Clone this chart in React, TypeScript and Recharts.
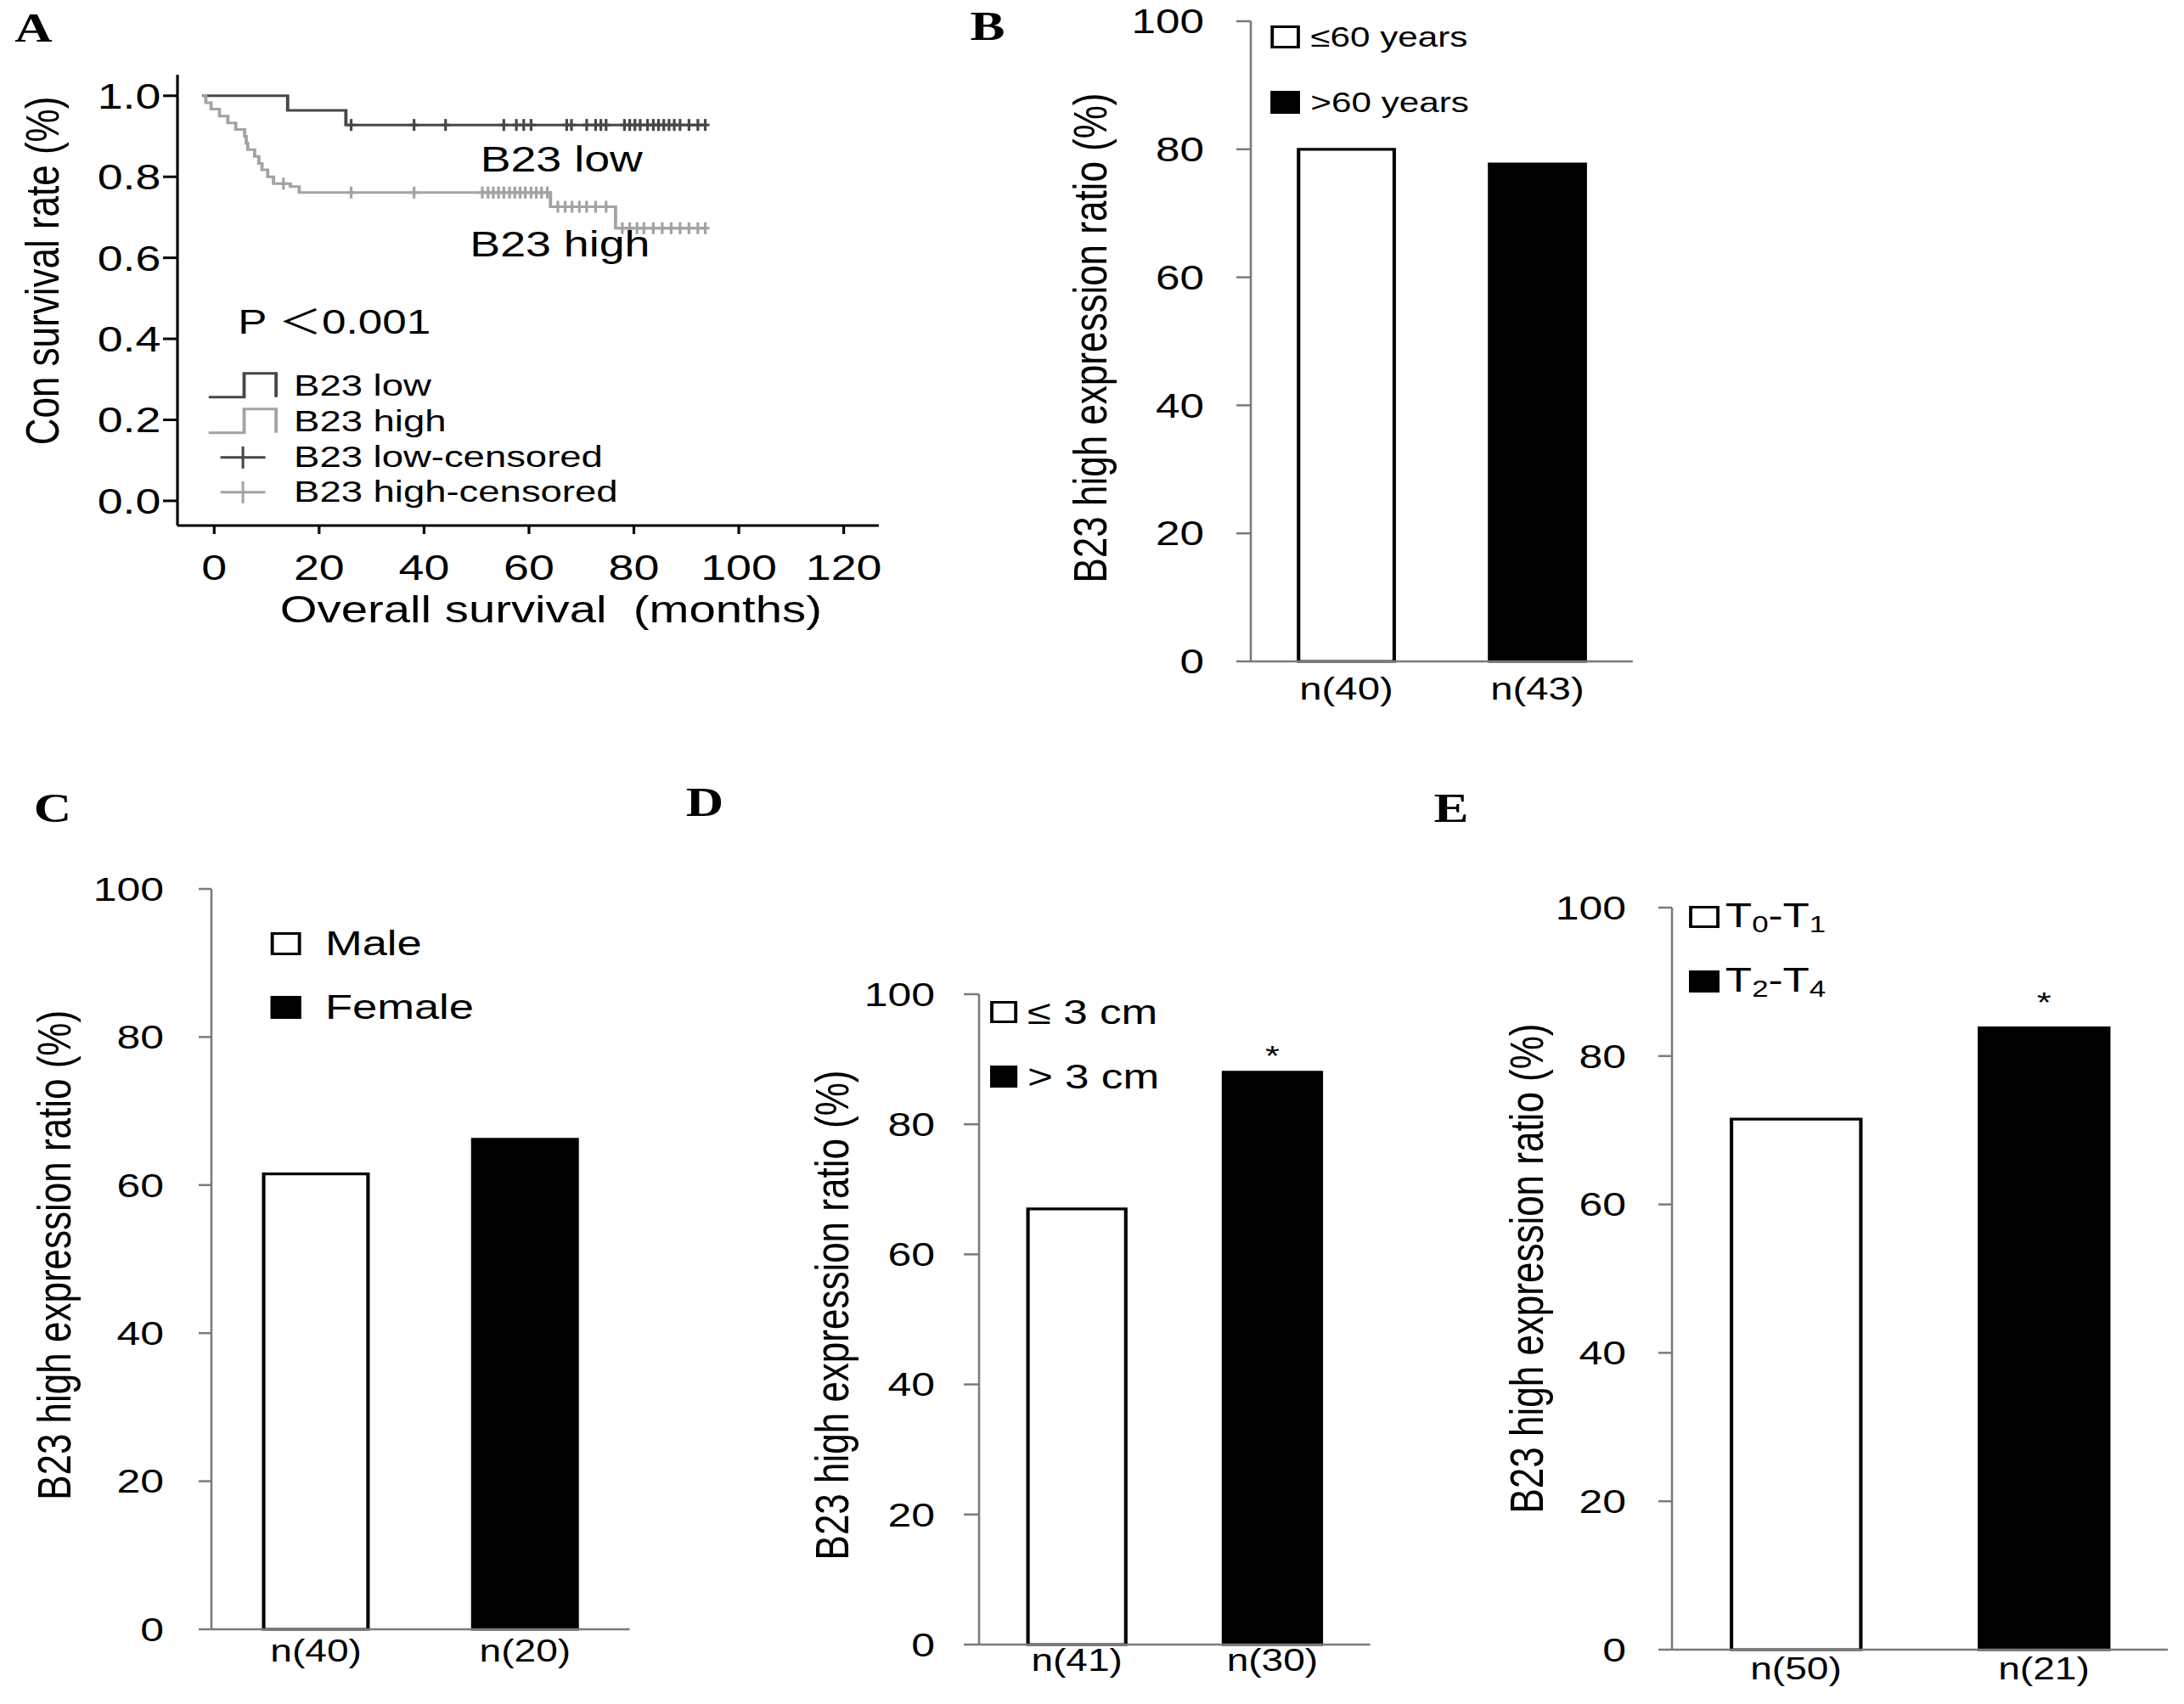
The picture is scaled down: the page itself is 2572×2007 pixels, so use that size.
import React from 'react';
import {
  ComposedChart, Line, Scatter, XAxis, YAxis, Legend, ReferenceDot,
  BarChart, Bar, Cell, LabelList,
} from 'recharts';

// ---------- layout constants ----------
const S = 1.28; // horizontal stretch of the original figure
const SANS = "'Liberation Sans', Arial, sans-serif";
const SANS_CJK = "'Liberation Sans', 'Noto Sans CJK SC', sans-serif";
const SERIF = "'Liberation Serif', 'Times New Roman', serif";
const LOW = '#474747';
const HIGH = '#a3a3a3';
const AXIS_GRAY = '#7a7a7a';
const FILLS = ['#ffffff', '#000000'];

// ---------- Panel A data (Kaplan-Meier) ----------
const survivalTicks = [0, 0.2, 0.4, 0.6, 0.8, 1.0];
const monthTicks = [0, 20, 40, 60, 80, 100, 120];

const lowCurveT = [-2.3, 14.0, 25.1, 93.9];
const lowCurveS = [1.0, 0.964, 0.928, 0.928];

const highCurveT = [-2.2, -1.6, -0.6, 1.0, 2.6, 4.1, 5.8, 6.1, 6.4, 7.7, 8.5, 9.1, 10.2, 11.3, 14.5, 16.2, 64.1, 76.5, 93.9];
const highCurveS = [1.0, 0.983, 0.967, 0.95, 0.933, 0.917, 0.9, 0.883, 0.867, 0.85, 0.833, 0.817, 0.8, 0.783, 0.776, 0.761, 0.726, 0.673, 0.673];

const lowCensorT = [26.1, 38.1, 44.1, 55.2, 57.6, 59.0, 60.4, 67.2, 68.1, 71.0, 72.7, 73.7, 74.7, 78.2, 79.2, 80.2, 81.2, 82.6, 83.7, 84.7, 85.7, 86.7, 87.7, 88.8, 90.5, 92.2, 93.6];
const lowCensorS = [0.928, 0.928, 0.928, 0.928, 0.928, 0.928, 0.928, 0.928, 0.928, 0.928, 0.928, 0.928, 0.928, 0.928, 0.928, 0.928, 0.928, 0.928, 0.928, 0.928, 0.928, 0.928, 0.928, 0.928, 0.928, 0.928, 0.928];

const highCensorT = [13.2, 26.1, 38.1, 51.1, 52.2, 53.2, 54.2, 55.2, 56.3, 57.3, 58.3, 59.3, 60.4, 61.4, 62.4, 63.5, 65.5, 66.9, 68.2, 69.6, 71.0, 72.7, 74.7, 77.8, 79.2, 80.6, 81.9, 83.7, 85.4, 87.1, 88.8, 90.5, 92.2, 93.6];
const highCensorS = [0.783, 0.761, 0.761, 0.761, 0.761, 0.761, 0.761, 0.761, 0.761, 0.761, 0.761, 0.761, 0.761, 0.761, 0.761, 0.761, 0.726, 0.726, 0.726, 0.726, 0.726, 0.726, 0.726, 0.673, 0.673, 0.673, 0.673, 0.673, 0.673, 0.673, 0.673, 0.673, 0.673, 0.673];

const kmLegendLabels = ['B23 low', 'B23 high', 'B23 low-censored', 'B23 high-censored'];
const kmLegendKinds = ['step', 'step', 'cross', 'cross'];
const kmLegendColors = [LOW, HIGH, LOW, HIGH];

const kmNotes = ['B23 low', 'B23 high', 'P ＜0.001'];
const kmNoteT = [66.2, 65.9, 22.9];
const kmNoteS = [0.845, 0.635, 0.442];

// ---------- Panels B–E data ----------
const ratioTicks = [0, 20, 40, 60, 80, 100];

const ageGroups = ['n(40)', 'n(43)'];
const ageRatio = [80, 77.7];
const ageLegend = ['≤60 years', '>60 years'];

const sexGroups = ['n(40)', 'n(20)'];
const sexRatio = [61.5, 66.2];
const sexLegend = ['Male', 'Female'];

const sizeGroups = ['n(41)', 'n(30)'];
const sizeRatio = [67, 88];
const sizeLegend = ['≤ 3 cm', '> 3 cm'];
const sizeSig = ['', '*'];

const stageGroups = ['n(50)', 'n(21)'];
const stageRatio = [71.5, 83.8];
const stageLegend = ['T0-T1', 'T2-T4'];
const stageSig = ['', '*'];

const panelLetters = ['A', 'B', 'C', 'D', 'E'];

// ---------- helpers ----------
const zip = (t: number[], s: number[]) => t.map((v, i) => ({ t: v, s: s[i] }));

const renderSub = (label: string) => {
  const parts = label.split(/(T\d)/);
  return parts.map((p, i) =>
    /^T\d$/.test(p) ? (
      <React.Fragment key={i}>
        T<span style={{ fontSize: '0.68em', verticalAlign: '-0.22em' }}>{p[1]}</span>
      </React.Fragment>
    ) : (
      <React.Fragment key={i}>{p}</React.Fragment>
    ),
  );
};

const vTitle = (text: string, cx: number, dy: number, fs: number) => (p: any) => {
  const vb = p.viewBox;
  const x = vb.x + cx;
  const y = vb.y + vb.height / 2 + dy;
  return (
    <text x={x} y={y} dy="0.35em" transform={`rotate(-90 ${x} ${y})`} textAnchor="middle"
      fontSize={fs} fontFamily={SANS} fill="#000">{text}</text>
  );
};

const hTitle = (text: string, dx: number, cyFromTop: number, fs: number) => (p: any) => {
  const vb = p.viewBox;
  const x = vb.x + vb.width / 2 + dx;
  const y = vb.y + cyFromTop;
  return (
    <text x={x} y={y} dy="0.35em" textAnchor="middle" fontSize={fs} fontFamily={SANS} fill="#000"
      style={{ whiteSpace: 'pre' }}>{text}</text>
  );
};

const censorShape = (color: string) => (p: any) => {
  const { cx, cy } = p;
  if (cx == null || cy == null) return <g />;
  return (
    <g>
      <line x1={cx - 4} x2={cx + 4} y1={cy} y2={cy} stroke={color} strokeWidth={3} />
      <line x1={cx} x2={cx} y1={cy - 7} y2={cy + 7} stroke={color} strokeWidth={2.5} />
    </g>
  );
};

// ---------- Panel A ----------
function KMPanel() {
  const lowCurve = zip(lowCurveT, lowCurveS);
  const highCurve = zip(highCurveT, highCurveS);
  const lowCensor = zip(lowCensorT, lowCensorS);
  const highCensor = zip(highCensorT, highCensorS);
  const rowH = 41.7;
  const iconW = 65;

  const legendContent = () => (
    <div style={{ fontFamily: SANS, fontSize: 35.5, color: '#000' }}>
      {kmLegendLabels.map((lab, i) => (
        <div key={lab} style={{ display: 'flex', alignItems: 'center', height: rowH }}>
          <svg width={iconW} height={rowH} style={{ display: 'block', overflow: 'visible' }}>
            {kmLegendKinds[i] === 'step' ? (
              <path d={`M1,${rowH / 2 + 13} H33.6 V${rowH / 2 - 15} H63 V${rowH / 2 + 13}`}
                fill="none" stroke={kmLegendColors[i]} strokeWidth={3} />
            ) : (
              <g stroke={kmLegendColors[i]} strokeWidth={3}>
                <line x1={iconW / 2 - 20.7} x2={iconW / 2 + 20.7} y1={rowH / 2} y2={rowH / 2} />
                <line x1={iconW / 2} x2={iconW / 2} y1={rowH / 2 - 13} y2={rowH / 2 + 13} strokeWidth={2.4} />
              </g>
            )}
          </svg>
          <span style={{ marginLeft: 14, whiteSpace: 'nowrap', lineHeight: 1 }}>{lab}</span>
        </div>
      ))}
    </div>
  );

  return (
    <div style={{ position: 'absolute', left: 0, top: 0 }}>
      <ComposedChart width={840} height={760} margin={{ top: 88, right: 31.4, bottom: 0, left: 0 }}>
        <XAxis type="number" dataKey="t" domain={[-7, 126.7]} ticks={monthTicks} interval={0}
          allowDataOverflow height={141} tickSize={10} tickMargin={24}
          axisLine={{ stroke: '#000', strokeWidth: 3 }} tickLine={{ stroke: '#000', strokeWidth: 2.5 }}
          tick={{ fontSize: 42, fill: '#000', fontFamily: SANS }}
          label={hTitle('Overall survival  (months)', 21, 99, 44)} />
        <YAxis type="number" dataKey="s" domain={[-0.061, 1.052]} ticks={survivalTicks} interval={0}
          allowDataOverflow width={163.3} tickSize={13.3} tickMargin={2}
          tickFormatter={(v: number) => v.toFixed(1)}
          axisLine={{ stroke: '#000', strokeWidth: 2.5 }} tickLine={{ stroke: '#000', strokeWidth: 3 }}
          tick={{ fontSize: 42, fill: '#000', fontFamily: SANS }}
          label={(p: any) => {
            const x = p.viewBox.x + 38.3;
            const y = 319;
            return (
              <text x={x} y={y} dy="0.35em" transform={`rotate(-90 ${x} ${y})`} textAnchor="middle"
                fontSize={44} fontFamily={SANS} fill="#000">Con survival rate (%)</text>
            );
          }} />
        <Line data={lowCurve} dataKey="s" type="stepAfter" stroke={LOW} strokeWidth={3} dot={false}
          activeDot={false} isAnimationActive={false} />
        <Line data={highCurve} dataKey="s" type="stepAfter" stroke={HIGH} strokeWidth={3} dot={false}
          activeDot={false} isAnimationActive={false} />
        <Scatter data={lowCensor} shape={censorShape(LOW)} isAnimationActive={false} />
        <Scatter data={highCensor} shape={censorShape(HIGH)} isAnimationActive={false} />
        {kmNotes.map((n, i) => (
          <ReferenceDot key={n} x={kmNoteT[i]} y={kmNoteS[i]} r={0} fill="none" stroke="none"
            label={{ value: n, position: 'center', fontSize: i === 2 ? 40 : 42, fill: '#000', fontFamily: SANS_CJK }} />
        ))}
        <Legend layout="vertical" align="center" verticalAlign="middle" content={legendContent}
          wrapperStyle={{ left: 191.4, top: 455 - rowH / 2, width: 'auto', height: 'auto' }} />
      </ComposedChart>
    </div>
  );
}

// ---------- Panels B–E ----------
type BarPanelProps = {
  left: number; top: number; width: number; height: number; marginTop: number;
  yAxisWidth: number; xAxisHeight: number; yTickSize: number; yTickMargin: number; xTickMargin: number;
  labelCx: number; labelDy: number;
  groups: string[]; values: number[]; legendLabels: string[]; sig?: string[]; sigOffset?: number;
  legendLeft: number; legendTop: number; rowH: number; boxW: number; boxH: number; boxGap: number; legendFont: number;
  gap: string; tickFont: number; xFont: number;
};

function BarPanel(p: BarPanelProps) {
  const rows = p.groups.map((g, i) => ({ name: g, value: p.values[i], sig: p.sig ? p.sig[i] : '' }));
  const legendContent = () => (
    <div style={{ fontFamily: SANS, fontSize: p.legendFont, color: '#000' }}>
      {p.legendLabels.map((lab, i) => (
        <div key={lab} style={{ display: 'flex', alignItems: 'center', height: p.rowH }}>
          <div style={{ width: p.boxW, height: p.boxH, boxSizing: 'border-box', border: '3.4px solid #000', background: FILLS[i] }} />
          <span style={{ marginLeft: p.boxGap, whiteSpace: 'nowrap', lineHeight: 1 }}>{renderSub(lab)}</span>
        </div>
      ))}
    </div>
  );
  return (
    <div style={{ position: 'absolute', left: p.left, top: p.top }}>
      <BarChart width={p.width} height={p.height} data={rows} barCategoryGap={p.gap}
        margin={{ top: p.marginTop, right: 10, bottom: 0, left: 0 }}>
        <XAxis dataKey="name" height={p.xAxisHeight} tickLine={false} tickSize={0} tickMargin={p.xTickMargin}
          axisLine={{ stroke: AXIS_GRAY, strokeWidth: 2.5 }} interval={0}
          tick={{ fontSize: p.xFont, fill: '#000', fontFamily: SANS }} />
        <YAxis type="number" domain={[0, 100]} ticks={ratioTicks} interval={0} width={p.yAxisWidth}
          tickSize={p.yTickSize} tickMargin={p.yTickMargin}
          axisLine={{ stroke: AXIS_GRAY, strokeWidth: 2 }} tickLine={{ stroke: AXIS_GRAY, strokeWidth: 2.5 }}
          tick={{ fontSize: p.tickFont, fill: '#000', fontFamily: SANS }}
          label={vTitle('B23 high expression ratio (%)', p.labelCx, p.labelDy, 44)} />
        <Bar dataKey="value" stroke="#000" strokeWidth={3.2} isAnimationActive={false}>
          {rows.map((r, i) => <Cell key={r.name + i} fill={FILLS[i]} />)}
          {p.sig ? (
            <LabelList dataKey="sig" position="top" offset={p.sigOffset}
              style={{ fontSize: 34, fill: '#000', fontFamily: SANS }} />
          ) : null}
        </Bar>
        <Legend layout="vertical" align="center" verticalAlign="middle" content={legendContent}
          wrapperStyle={{ left: p.legendLeft, top: p.legendTop, width: 'auto', height: 'auto' }} />
      </BarChart>
    </div>
  );
}

const letterX = [30.9, 908.6, 48.4, 648.4, 1335.2];
const letterY = [32, 30, 951, 944, 951];

export default function App() {
  return (
    <div style={{ width: 2572, height: 2007, overflow: 'hidden', background: '#fff' }}>
      <style>{'body{margin:0;background:#fff}'}</style>
      <div style={{ position: 'relative', width: 2572 / S, height: 2007, transform: `scaleX(${S})`, transformOrigin: '0 0', fontFamily: SANS }}>
        <KMPanel />
        <BarPanel left={960} top={0} width={552.3} height={860} marginTop={25}
          yAxisWidth={190.8} xAxisHeight={81} yTickSize={13.3} yTickMargin={29.7} xTickMargin={18.5}
          labelCx={42.3} labelDy={-4} groups={ageGroups} values={ageRatio} legendLabels={ageLegend}
          legendLeft={208.8} legendTop={5.3} rowH={76.5} boxW={27.5} boxH={27} boxGap={9.4} legendFont={33}
          gap="25%" tickFont={40} xFont={37} />
        <BarPanel left={0} top={960} width={589.3} height={1040} marginTop={87}
          yAxisWidth={194.5} xAxisHeight={81} yTickSize={11.7} yTickMargin={32} xTickMargin={12}
          labelCx={49.6} labelDy={-4.6} groups={sexGroups} values={sexRatio} legendLabels={sexLegend}
          legendLeft={249.2} legendTop={114.25} rowH={74.5} boxW={28} boxH={27} boxGap={22} legendFont={41}
          gap="25%" tickFont={39} xFont={36} />
        <BarPanel left={720} top={960} width={550.6} height={1040} marginTop={211}
          yAxisWidth={180.8} xAxisHeight={63} yTickSize={14} yTickMargin={26.6} xTickMargin={5}
          labelCx={44.8} labelDy={-5} groups={sizeGroups} values={sizeRatio} legendLabels={sizeLegend}
          sig={sizeSig} sigOffset={8}
          legendLeft={190.9} legendTop={194.2} rowH={75.6} boxW={25} boxH={26} boxGap={9.4} legendFont={40}
          gap="25%" tickFont={39} xFont={36} />
        <BarPanel left={1360} top={960} width={644.5} height={1040} marginTop={109}
          yAxisWidth={178.3} xAxisHeight={57} yTickSize={12.5} yTickMargin={29.7} xTickMargin={9}
          labelCx={44} labelDy={-12} groups={stageGroups} values={stageRatio} legendLabels={stageLegend}
          sig={stageSig} sigOffset={18.7}
          legendLeft={193.9} legendTop={82} rowH={76} boxW={28} boxH={26} boxGap={5.5} legendFont={40}
          gap="24%" tickFont={39} xFont={36} />
        <svg width={2572 / S} height={2007} style={{ position: 'absolute', left: 0, top: 0, pointerEvents: 'none' }}>
          {panelLetters.map((l, i) => (
            <text key={l} x={letterX[i]} y={letterY[i]} dy="0.35em" textAnchor="middle"
              fontFamily={SERIF} fontWeight="bold" fontSize={48} fill="#000">{l}</text>
          ))}
        </svg>
      </div>
    </div>
  );
}
